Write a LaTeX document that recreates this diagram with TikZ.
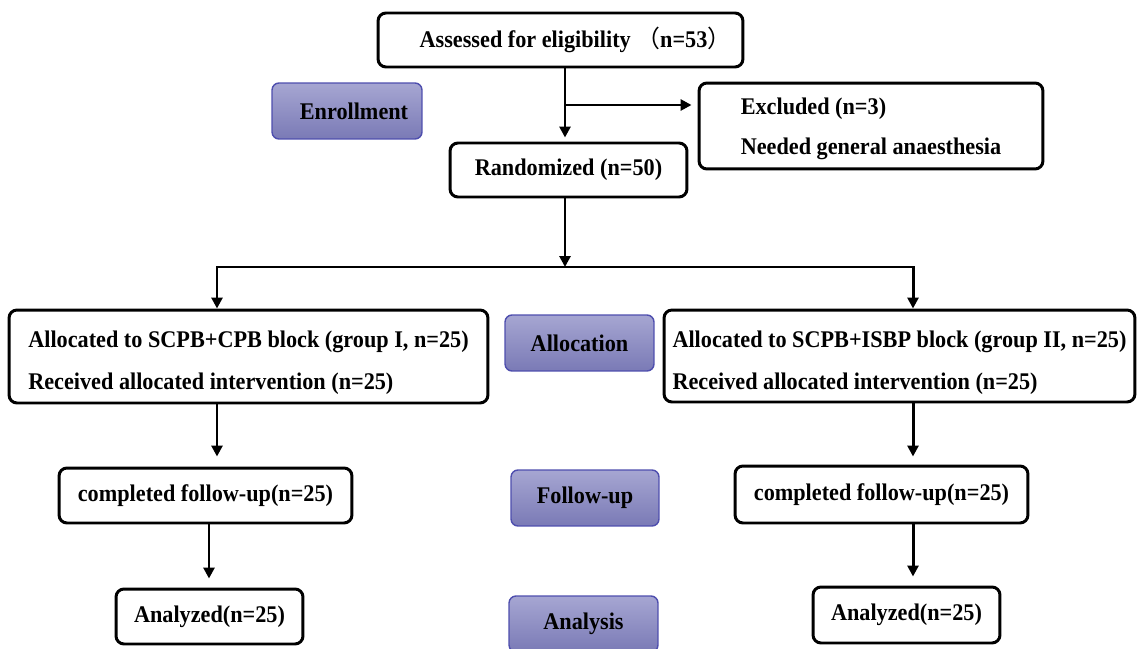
\documentclass[tikz,border=0pt]{standalone}
\usepackage{fontspec}
\setmainfont{Liberation Serif}[FakeStretch=0.93]
\newfontfamily\cjk{Noto Sans CJK SC}
\usetikzlibrary{arrows.meta}
\definecolor{stagetop}{HTML}{A6A6D2}
\definecolor{stagebot}{HTML}{7A7AB6}
\definecolor{stageborder}{HTML}{4E4EAE}
\tikzset{
  box/.style={draw, line width=1.7pt, rounded corners=0.16cm, fill=white, inner sep=0pt,
    font=\bfseries\fontsize{13.6}{23.9}\selectfont},
  stage/.style={draw=stageborder, line width=0.8pt, rounded corners=0.14cm,
    top color=stagetop, bottom color=stagebot, inner sep=0pt,
    font=\bfseries\fontsize{13.6}{15}\selectfont},
  arr/.style={line width=1.7pt, -{Triangle[length=0.22cm,width=0.22cm]}},
}
\begin{document}
\begin{tikzpicture}[x=0.02cm,y=-0.02cm]
\useasboundingbox (0,0) rectangle (1137,649);
% main boxes
\node[box, minimum width=7.30cm, minimum height=1.08cm] (assess) at (560.5,40)
  {\hspace*{0.6cm}Assessed for eligibility {\cjk\mdseries （}n=53{\cjk\mdseries ）}};
\node[box, minimum width=6.88cm, minimum height=1.72cm, align=left,
  font=\bfseries\fontsize{13.6}{22.8}\selectfont] (excl) at (871,126)
  {\rule{0pt}{13pt}Excluded (n=3)\\Needed general anaesthesia};
\node[box, minimum width=4.74cm, minimum height=1.08cm] (rand) at (568.5,170) {Randomized (n=50)};
\node[box, minimum width=9.58cm, minimum height=1.86cm, align=left] (allocL) at (248.5,356.5)
  {\rule{0pt}{17pt}Allocated to SCPB+CPB block (group I, n=25)\\Received allocated intervention (n=25)};
\node[box, minimum width=9.42cm, minimum height=1.84cm, align=left] (allocR) at (899.5,356)
  {\rule{0pt}{17pt}Allocated to SCPB+ISBP block (group II, n=25)\\Received allocated intervention (n=25)};
\node[box, minimum width=5.86cm, minimum height=1.10cm] (fuL) at (205.5,495.5) {completed follow-up(n=25)};
\node[box, minimum width=5.86cm, minimum height=1.14cm] (fuR) at (881.5,494.5) {completed follow-up(n=25)};
\node[box, minimum width=3.74cm, minimum height=1.10cm] (anL) at (209.5,616.5) {Analyzed(n=25)};
\node[box, minimum width=3.74cm, minimum height=1.12cm] (anR) at (906.5,615) {Analyzed(n=25)};
% stage boxes
\node[stage, minimum width=3.00cm, minimum height=1.12cm] (enroll) at (347,111) {\hspace*{0.28cm}Enrollment};
\node[stage, minimum width=2.98cm, minimum height=1.12cm] (allocS) at (579.5,343) {Allocation};
\node[stage, minimum width=2.96cm, minimum height=1.12cm] (fuS) at (585,498) {Follow-up};
\node[stage, minimum width=2.98cm, minimum height=1.12cm] (anS) at (583.5,624) {Analysis};
% junction coordinates
\coordinate (jx) at (565,0);
\coordinate (b1) at (565,105);
\coordinate (hub) at (565,267);
\coordinate (hl) at (217,267);
\coordinate (hr) at (913,267);
\coordinate (lx) at (209,0);
% connectors
\draw[arr, shorten >=0.08cm] (assess.south -| jx) -- (rand.north -| jx);
\draw[arr, shorten >=0.12cm] (b1) -- (b1 -| excl.west);
\draw[arr] (rand.south -| jx) -- (hub);
\draw[arr] (hub) -- (hl) -- (hl |- allocL.north);
\draw[arr] (hub) -- (hr) -- (hr |- allocR.north);
\draw[arr, shorten >=0.2cm] (allocL.south -| hl) -- (fuL.north -| hl);
\draw[arr, shorten >=0.18cm] (fuL.south -| lx) -- (anL.north -| lx);
\draw[arr, shorten >=0.16cm] (allocR.south -| hr) -- (fuR.north -| hr);
\draw[arr, shorten >=0.18cm] (fuR.south -| hr) -- (anR.north -| hr);
\end{tikzpicture}
\end{document}
